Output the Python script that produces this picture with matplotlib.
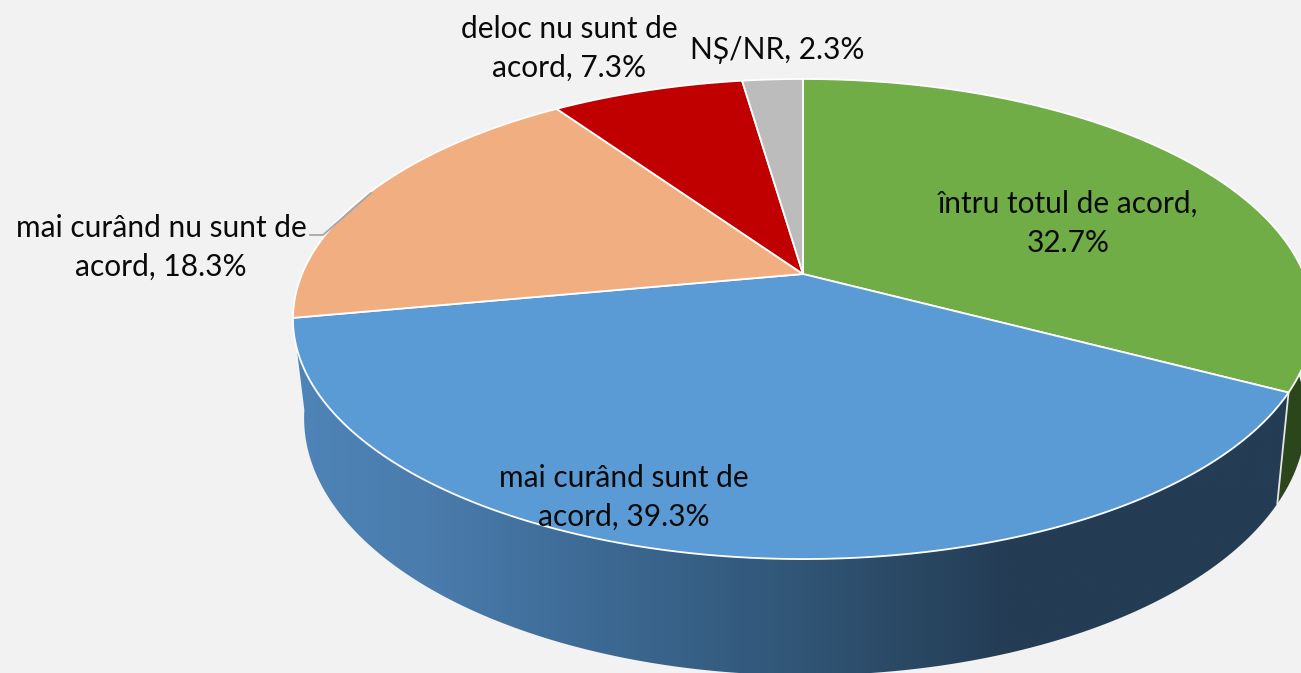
import numpy as np
import matplotlib
matplotlib.use("Agg")
import matplotlib.pyplot as plt
from matplotlib.colors import LinearSegmentedColormap
from matplotlib.patches import Polygon

# Data
categories = ["întru totul de acord,\n", "mai curând sunt de\nacord, ", "mai curând nu sunt de\nacord, ",
              "deloc nu sunt de\nacord, ", "NȘ/NR, "]
values = [32.7, 39.3, 18.3, 7.3, 2.3]
colors = ["#70ad47", "#5b9bd5", "#f1af81", "#c00000", "#bcbcbc"]
label_pos = [(1068, 223.5), (624, 497.5), (161, 247), (569, 48), (777, 50)]

W, H = 1301, 673
BG = "#f2f2f2"
fig = plt.figure(figsize=(W / 100, H / 100), dpi=100, facecolor=BG)
ax = fig.add_axes([0, 0, 1, 1])
ax.set_xlim(0, W)
ax.set_ylim(H, 0)
ax.axis("off")

TOP = dict(cx=803, a=501, b=231.6, k=0.1875, cy=274, phase=0.0)
LOW = dict(cx=805, a=492, b=248, k=0.1875, cy=370, phase=np.radians(1.5))


def project(theta, d):
    t = theta + d["phase"]
    w = 1 + d["k"] * np.cos(t)
    return np.column_stack([d["cx"] + d["a"] * np.sin(t) / w, d["cy"] - d["b"] * np.cos(t) / w])


fractions = np.cumsum([0] + values) / sum(values)
angles = 2 * np.pi * fractions

# side wall: green part (clipped by the figure edge)
a0, a1 = angles[1], angles[2]
t_green = np.linspace(np.pi / 3, a0, 120)
ax.add_patch(Polygon(np.vstack([project(t_green, TOP), project(t_green[::-1], LOW)]),
                     closed=True, fc="#2c461c", ec="none", zorder=1))

# side wall: blue part with horizontal gradient
t_blue = np.linspace(a0, a1, 300)
wall = Polygon(np.vstack([project(t_blue, TOP), project(t_blue[::-1], LOW)]),
               closed=True, fc="none", ec="none", zorder=1, transform=ax.transData)
ax.add_patch(wall)
stops = [(0.0, "#4f84b8"), (0.13, "#4a7cad"), (0.31, "#3c6993"), (0.52, "#305474"),
         (0.72, "#243c54"), (1.0, "#243c54")]
cmap = LinearSegmentedColormap.from_list("wall", stops)
grad = np.linspace(0, 1, 512)[None, :]
im = ax.imshow(grad, extent=(295, 1290, H + 5, 300), cmap=cmap, aspect="auto", zorder=1.5)
ax.set_xlim(0, W)
ax.set_ylim(H, 0)
im.set_clip_path(wall)

# white edge between the green and blue walls
edge = np.vstack([project(np.array([a0]), TOP), project(np.array([a0]), LOW)])
ax.plot(edge[:, 0], edge[:, 1], color="#e6e6e6", lw=1.3, zorder=2)

# top face
centre = np.array([[TOP["cx"], TOP["cy"]]])
for start, end, col in zip(angles[:-1], angles[1:], colors):
    t = np.linspace(start, end, 200)
    ax.add_patch(Polygon(np.vstack([centre, project(t, TOP)]), closed=True, fc=col,
                         ec="white", lw=1.3, joinstyle="round", zorder=3))

# leader line
ax.plot([310, 323, 371], [235, 235, 193], color="#a6a6a6", lw=1.3, zorder=4)

# labels
for name, val, (x, y) in zip(categories, values, label_pos):
    ax.text(x, y, f"{name}{val}%", ha="center", va="center", fontsize=21.5,
            family="Lato", color="#0a0a0a", linespacing=1.47, zorder=5)

fig.savefig("out.png", dpi=100, facecolor=BG)
